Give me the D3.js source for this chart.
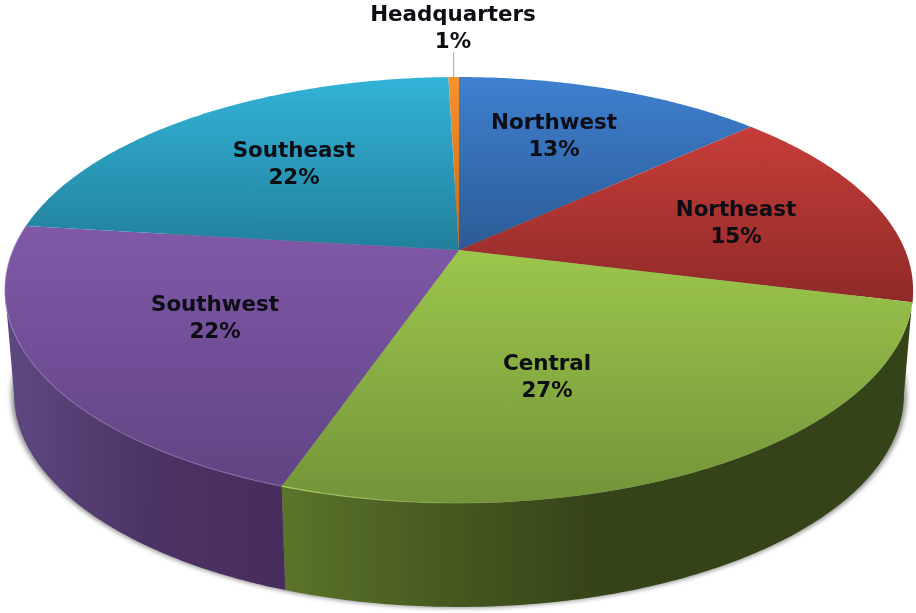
<!DOCTYPE html>
<html>
<head>
<meta charset="utf-8">
<script src="https://cdn.jsdelivr.net/npm/d3@7"></script>
<style>
  html, body { margin: 0; padding: 0; background: #fff; }
  svg { display: block; }
  text { font-family: "DejaVu Sans", sans-serif; font-weight: bold; fill: #0c0c14; }
</style>
</head>
<body>
<div id="chart"></div>
<script>
// Data: shares follow the drawn slice sizes, percents are the printed labels
const regions  = ["Northwest", "Northeast", "Central", "Southwest", "Southeast", "Headquarters"]
const shares   = [13.2, 15.7, 26.4, 21.6, 22.65, 0.45]
const percents = ["13%", "15%", "27%", "22%", "22%", "1%"]

// Colours of the top face (light edge, dark edge)
const topLight = ["#3f80cf", "#c63d39", "#9cc64b", "#8059a9", "#33b3d8", "#f9922a"]
const topDark  = ["#2b5b96", "#8f2a28", "#73943a", "#614483", "#21809b", "#c06c1e"]

const WIDTH = 916
const HEIGHT = 613

// Pie parameters: the pie is a circle seen in perspective
const CENTER = {X:459, Y:250}
const TILT = 0.188                      // how much closer the front is than the back
const TOP = {RX:446, RY:205.5, Y:CENTER.Y}
const BOTTOM = {RX:437, RY:205, Y:354.5}
const SILHOUETTE = Math.acos(-TILT)     // angle where the wall turns out of sight

// Label anchors, in page pixels (label centre, first line baseline)
const LABEL_POS = [[554, 129], [736, 216], [547, 370], [215, 311], [294, 157], [453, 21]]

const svg = d3.select("#chart").append("svg")
    .attr("width", WIDTH)
    .attr("height", HEIGHT)

const defs = svg.append("defs")

defs.append("filter").attr("id", "soft")
    .attr("x", "-5%").attr("y", "-5%").attr("width", "110%").attr("height", "110%")
    .append("feGaussianBlur").attr("stdDeviation", 2.2)

defs.append("filter").attr("id", "textSoft")
    .append("feGaussianBlur").attr("stdDeviation", 0.35)

// Scales from unit circle coordinates to the page
const face = f => ({
    x: d3.scaleLinear().domain([-1, 1]).range([CENTER.X - f.RX, CENTER.X + f.RX]),
    y: d3.scaleLinear().domain([-1, 1]).range([f.Y - f.RY, f.Y + f.RY])
})
const topFace = face(TOP)
const bottomFace = face(BOTTOM)

// Project an angle (0 = top, clockwise) on to a face
function project(f, angle) {
    const u = Math.sin(angle)
    const v = -Math.cos(angle)
    const w = 1 - TILT * v
    return [f.x(u / w), f.y(v / w)]
}

function arcPoints(f, a0, a1) {
    const n = Math.max(2, Math.ceil((a1 - a0) / 0.01))
    return d3.range(n + 1).map(i => project(f, a0 + (a1 - a0) * i / n))
}

const line = d3.line()

const slices = d3.pie().sort(null).value(d => d)(shares)

// Shadow under the bottom edge
const shadowFace = {
    x: bottomFace.x.copy().range([CENTER.X - BOTTOM.RX - 3, CENTER.X + BOTTOM.RX + 3]),
    y: bottomFace.y.copy().range([BOTTOM.Y - BOTTOM.RY, BOTTOM.Y + BOTTOM.RY + 1])
}
svg.append("path")
    .attr("d", line(arcPoints(shadowFace, 0, 2 * Math.PI)) + "Z")
    .attr("fill", "#777")
    .attr("fill-opacity", 0.75)
    .attr("filter", "url(#soft)")

// Top face gradients
slices.forEach((s, i) => {
    const pts = arcPoints(topFace, s.startAngle, s.endAngle).concat([[CENTER.X, CENTER.Y]])
    const ys = d3.extent(pts, p => p[1])
    const g = defs.append("linearGradient").attr("id", "top" + i)
        .attr("gradientUnits", "userSpaceOnUse")
        .attr("x1", 0).attr("x2", 0).attr("y1", ys[0]).attr("y2", ys[1])
    g.append("stop").attr("offset", 0).attr("stop-color", topLight[i])
    g.append("stop").attr("offset", 1).attr("stop-color", topDark[i])
})

// Wall gradients, only Central and Southwest can be seen from the front
function wallGradient(id, x1, x2, colours) {
    const g = defs.append("linearGradient").attr("id", id)
        .attr("gradientUnits", "userSpaceOnUse")
        .attr("x1", x1).attr("x2", x2).attr("y1", 0).attr("y2", 0)
    colours.forEach((c, i) => g.append("stop").attr("offset", i / (colours.length - 1)).attr("stop-color", c))
}
wallGradient("wallCentral", 281, 600, ["#5c742a", "#465a20", "#354318"])
wallGradient("wallSouthwest", 10, 285, ["#5e4880", "#4c3365", "#462d5b"])

const walls = [
    {fill: "url(#wallCentral)", a0: SILHOUETTE, a1: slices[2].endAngle},
    {fill: "url(#wallSouthwest)", a0: slices[3].startAngle, a1: 2 * Math.PI - SILHOUETTE}
]

svg.append("g").selectAll("path")
    .data(walls)
    .join("path")
    .attr("d", d => line(arcPoints(topFace, d.a0, d.a1)
        .concat(arcPoints(bottomFace, d.a0, d.a1).reverse())) + "Z")
    .attr("fill", d => d.fill)

// Top faces
svg.append("g").selectAll("path")
    .data(slices)
    .join("path")
    .attr("d", s => line([[CENTER.X, CENTER.Y]].concat(arcPoints(topFace, s.startAngle, s.endAngle))) + "Z")
    .attr("fill", (s, i) => "url(#top" + i + ")")

// Light rim along the front edge of the purple and the left of the green slice
const rim = defs.append("linearGradient").attr("id", "rim")
    .attr("gradientUnits", "userSpaceOnUse")
    .attr("x1", 281).attr("x2", 520).attr("y1", 0).attr("y2", 0)
rim.append("stop").attr("offset", 0).attr("stop-color", "#b4d86a").attr("stop-opacity", 0.9)
rim.append("stop").attr("offset", 1).attr("stop-color", "#b4d86a").attr("stop-opacity", 0)

svg.append("path")
    .attr("d", line(arcPoints(topFace, slices[3].startAngle, slices[3].endAngle)))
    .attr("fill", "none")
    .attr("stroke", "#a584cc")
    .attr("stroke-opacity", 0.5)
    .attr("stroke-width", 1.2)

svg.append("path")
    .attr("d", line(arcPoints(topFace, slices[2].startAngle, slices[2].endAngle)))
    .attr("fill", "none")
    .attr("stroke", "url(#rim)")
    .attr("stroke-width", 1.2)

// Leader line for the small slice
const hqMid = project(topFace, (slices[5].startAngle + slices[5].endAngle) / 2)
svg.append("line")
    .attr("x1", hqMid[0]).attr("x2", hqMid[0])
    .attr("y1", 52).attr("y2", hqMid[1])
    .attr("stroke", "#a6a6a6")
    .attr("stroke-width", 1)

// Labels
const label = svg.append("g")
    .attr("filter", "url(#textSoft)")
    .selectAll("text")
    .data(regions)
    .join("text")
    .attr("text-anchor", "middle")
    .attr("font-size", 21.4)
    .attr("transform", (d, i) => "translate(" + LABEL_POS[i] + ")")

label.append("tspan").attr("x", 0).attr("y", 0).text(d => d)
label.append("tspan").attr("x", 0).attr("y", 27).text((d, i) => percents[i])
</script>
</body>
</html>
